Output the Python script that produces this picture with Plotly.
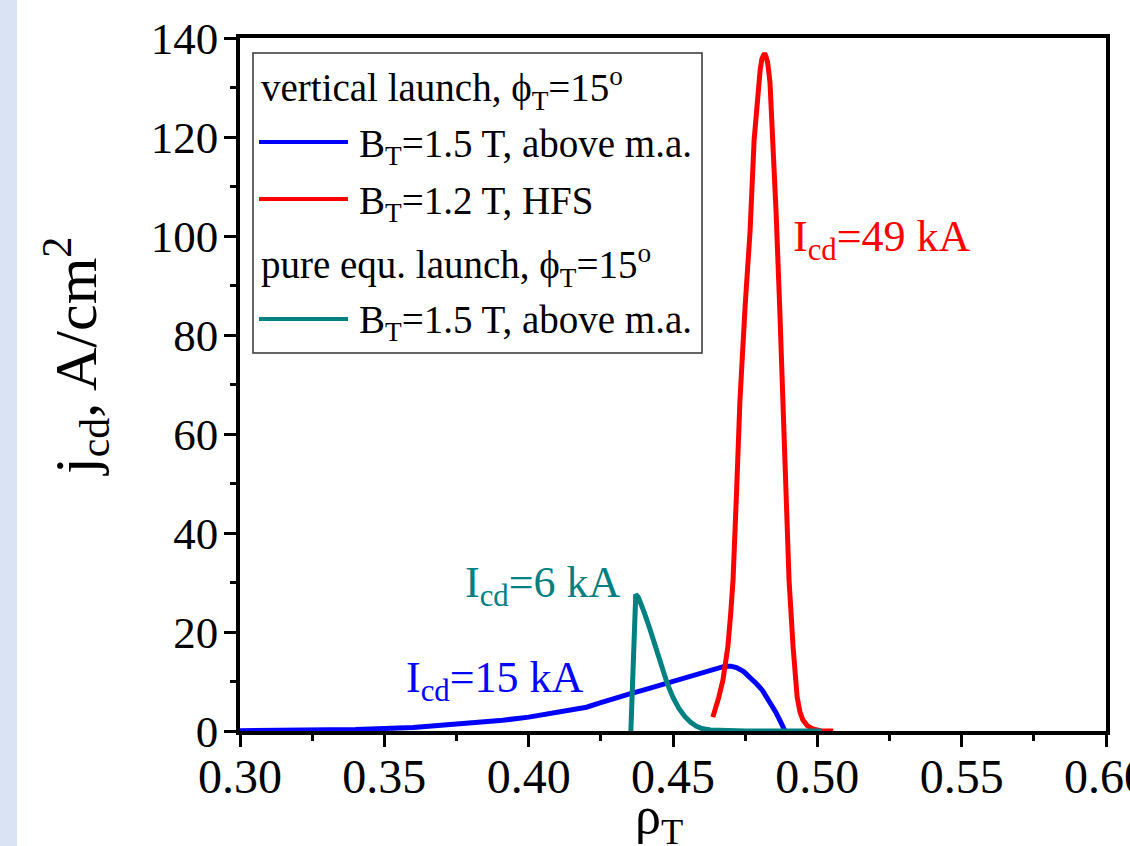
import plotly.graph_objects as go

# ---- data ----
blue_x = [0.300, 0.320, 0.340, 0.360, 0.380, 0.390, 0.400, 0.410, 0.420, 0.4247, 0.430, 0.435, 0.440,
          0.444, 0.448, 0.453, 0.458, 0.4625, 0.466, 0.468, 0.470, 0.472, 0.4745, 0.4767, 0.479, 0.481,
          0.4825, 0.484, 0.4855, 0.487, 0.4888]
blue_y = [0.05, 0.1, 0.3, 0.7, 1.5, 2.1, 2.8, 3.7, 4.8, 5.7, 6.5, 7.5, 8.3,
          9.0, 9.7, 10.5, 11.4, 12.3, 12.9, 13.1, 13.1, 12.8, 12.0, 10.9, 9.5, 8.2,
          6.9, 5.4, 3.9, 2.2, 0.0]

red_x = [0.4638, 0.4650, 0.4659, 0.4673, 0.4690, 0.4700, 0.4708, 0.4720, 0.4732, 0.4750, 0.4767, 0.4781,
         0.4794, 0.4802, 0.4808, 0.4813, 0.4817, 0.4822, 0.4828, 0.4836, 0.4846, 0.4857, 0.4870, 0.4881,
         0.4892, 0.4902, 0.4916, 0.4930, 0.4940, 0.4950, 0.4965, 0.4985, 0.5010, 0.5055]
red_y = [2.8, 4.8, 6.9, 10.3, 17.0, 23.8, 30.5, 48.0, 66.9, 86.0, 101.0, 119.4,
         129.5, 133.6, 135.8, 136.8, 136.9, 136.3, 135.0, 131.0, 119.4, 105.0, 85.0, 66.9,
         48.0, 30.5, 17.0, 6.9, 3.8, 2.2, 1.1, 0.4, 0.05, 0.0]

teal_x = [0.4354, 0.4364, 0.4371, 0.4380, 0.4390, 0.4400, 0.4420, 0.4440, 0.4460, 0.4480, 0.4500, 0.4520,
          0.4540, 0.4560, 0.4580, 0.4600, 0.4630, 0.4670, 0.4750, 0.4900, 0.5016]
teal_y = [0.0, 15.0, 27.6, 27.0, 25.6, 24.0, 20.6, 16.8, 12.9, 9.6, 6.8, 4.6,
          3.0, 1.8, 1.0, 0.5, 0.2, 0.05, 0.0, 0.0, 0.0]

series_names = ["B<sub>T</sub>=1.5 T, above m.a.", "B<sub>T</sub>=1.2 T, HFS", "B<sub>T</sub>=1.5 T, above m.a."]
group_titles = ["vertical launch, ϕ<sub>T</sub>=15<sup>o</sup>", "pure equ. launch, ϕ<sub>T</sub>=15<sup>o</sup>"]
labels = ["I<sub>cd</sub>=15 kA", "I<sub>cd</sub>=49 kA", "I<sub>cd</sub>=6 kA"]

x_ticks = [0.30, 0.35, 0.40, 0.45, 0.50, 0.55, 0.60]
y_ticks = [0, 20, 40, 60, 80, 100, 120, 140]

BLUE, RED, TEAL = "#0000FF", "#FF0000", "#008080"
FONT = "Liberation Serif, Times New Roman, serif"

W, H = 1130, 846
ML, MR, MT, MB = 240, 24, 38, 115
PW, PH = W - ML - MR, H - MT - MB

def dx(px):
    return (px - ML) / PW

def dy(py):
    return (H - MB - py) / PH

fig = go.Figure()
for xs, ys, c, n in [(blue_x, blue_y, BLUE, series_names[0]),
                     (red_x, red_y, RED, series_names[1]),
                     (teal_x, teal_y, TEAL, series_names[2])]:
    fig.add_trace(go.Scatter(x=xs, y=ys, mode="lines", name=n,
                             line=dict(color=c, width=5), showlegend=False))

axis_common = dict(
    showline=True, linewidth=3.5, linecolor="black", mirror=True,
    ticks="outside", ticklen=12, tickwidth=3, tickcolor="black",
    showgrid=False, zeroline=False, ticklabeloverflow="allow", automargin=False,
)

fig.update_xaxes(range=[0.30, 0.60], tickvals=x_ticks, ticktext=[f"{v:.2f}" for v in x_ticks],
                 ticklabelstandoff=-11, tickfont=dict(family=FONT, size=48, color="black"),
                 minor=dict(ticks="outside", ticklen=6, tickwidth=3, tickcolor="black", dtick=0.025,
                            tick0=0.30, showgrid=False),
                 **axis_common)
fig.update_yaxes(range=[0, 140], tickvals=y_ticks, ticklabelstandoff=-3,
                 tickfont=dict(family=FONT, size=45, color="black"),
                 minor=dict(ticks="outside", ticklen=6, tickwidth=3, tickcolor="black", dtick=10,
                            tick0=0, showgrid=False),
                 **axis_common)

shapes = []
# left light-blue strip of the page
shapes.append(dict(type="rect", xref="paper", yref="paper", x0=dx(0), x1=dx(17), y0=dy(H), y1=dy(0),
                   fillcolor="#DAE3F3", line=dict(width=0), layer="below"))
# legend box
shapes.append(dict(type="rect", xref="x domain", yref="y domain", x0=dx(253), x1=dx(702), y0=dy(353), y1=dy(53),
                   line=dict(color="#333333", width=1.5), fillcolor="rgba(0,0,0,0)"))
# legend samples
for c, yy in [(BLUE, 142), (RED, 199), (TEAL, 319)]:
    shapes.append(dict(type="line", xref="x domain", yref="y domain", x0=dx(259), x1=dx(348), y0=dy(yy), y1=dy(yy),
                       line=dict(color=c, width=4)))

ann = []
LF = 39
for txt, px, py in [(group_titles[0], 259, 88), (series_names[0], 357, 146), (series_names[1], 357, 203),
                    (group_titles[1], 259, 265), (series_names[2], 357, 323)]:
    ann.append(dict(text=txt, xref="x domain", yref="y domain", x=dx(px), y=dy(py), xanchor="left",
                    yanchor="middle", showarrow=False, font=dict(family=FONT, size=LF, color="black")))

for txt, c, px, py in [(labels[0], BLUE, 404, 680), (labels[1], RED, 791, 240), (labels[2], TEAL, 463, 585)]:
    ann.append(dict(text=txt, xref="x domain", yref="y domain", x=dx(px), y=dy(py), xanchor="left",
                    yanchor="middle", showarrow=False, font=dict(family=FONT, size=44, color=c)))

# axis titles
ann.append(dict(text="ρ<sub>T</sub>", xref="x domain", yref="y domain", x=dx(659), y=dy(785), xanchor="center",
                yanchor="top", showarrow=False, font=dict(family=FONT, size=52, color="black")))
ann.append(dict(text="j<sub>cd</sub>, A/cm<sup>2</sup>", xref="x domain", yref="y domain", x=dx(76), y=dy(357),
                xanchor="center", yanchor="middle", textangle=-90, showarrow=False,
                font=dict(family=FONT, size=60, color="black")))

fig.update_layout(width=W, height=H, margin=dict(l=ML, r=MR, t=MT, b=MB, pad=0, autoexpand=False),
                  paper_bgcolor="white", plot_bgcolor="white",
                  shapes=shapes, annotations=ann, showlegend=False,
                  font=dict(family=FONT, color="black"))

fig.write_html("out.html")
